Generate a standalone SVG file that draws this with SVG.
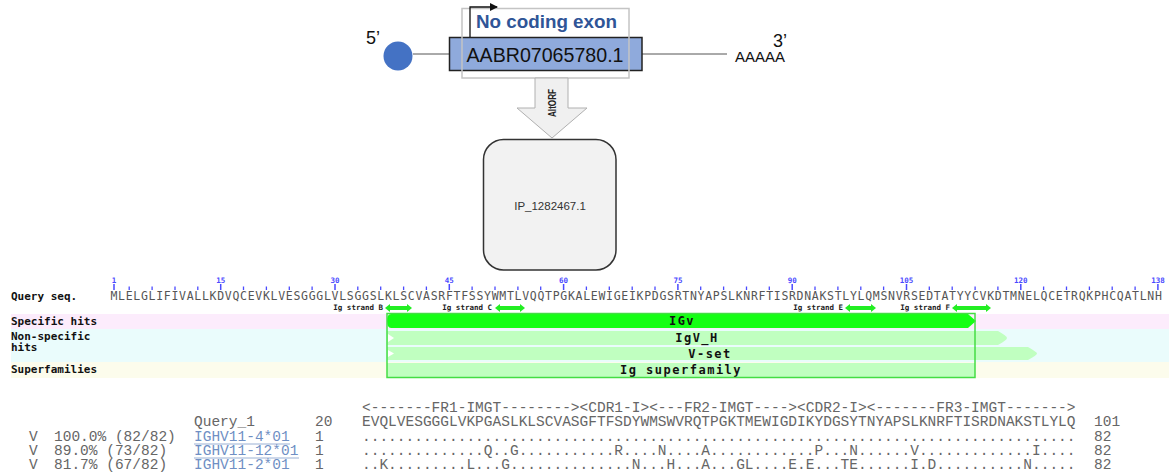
<svg xmlns="http://www.w3.org/2000/svg" width="1169" height="475" viewBox="0 0 1169 475">
<style>
.seq{font-family:"DejaVu Sans Mono",monospace;font-size:11.5px;fill:#555;letter-spacing:0.7px}
.lbl{font-family:"DejaVu Sans Mono",monospace;font-weight:bold;font-size:11px;fill:#111}
.rul{font-family:"DejaVu Sans Mono",monospace;font-weight:bold;font-size:7.5px;fill:#4a4aff;text-anchor:middle}
.str{font-family:"DejaVu Sans Mono",monospace;font-weight:bold;font-size:7.5px;fill:#222;text-anchor:end}
.bar{font-family:"DejaVu Sans Mono",monospace;font-weight:bold;font-size:12px;fill:#111;text-anchor:middle;letter-spacing:1.5px}
.aln{font-family:"Liberation Mono","Courier New",monospace;font-size:14.5px;fill:#666}
.lnk{fill:#6f8fc4}
.strand{fill:#22ee22}
</style>
<defs>
<marker id="ah" markerWidth="8" markerHeight="8" refX="7" refY="4" orient="auto" markerUnits="userSpaceOnUse">
<path d="M0,0 L8,4 L0,8 z" fill="#111"/>
</marker>
</defs>

<!-- Gene model -->
<g id="gene">
<line x1="413" y1="54" x2="450" y2="54" stroke="#555" stroke-width="1"/>
<line x1="642" y1="54" x2="727" y2="54" stroke="#555" stroke-width="1"/>
<circle cx="398" cy="56" r="14.5" fill="#4472c4"/>
<text x="366" y="44" font-family="Liberation Sans,Arial,sans-serif" font-size="18" fill="#111">5’</text>
<text x="773" y="47" font-family="Liberation Sans,Arial,sans-serif" font-size="18" fill="#111">3’</text>
<text x="735" y="62" font-family="Liberation Sans,Arial,sans-serif" font-size="14" fill="#111" textLength="50" lengthAdjust="spacingAndGlyphs">AAAAA</text>
<rect x="449.5" y="37.5" width="192.5" height="33" fill="#8faadc" stroke="#222" stroke-width="1.5"/>
<text x="545" y="62" text-anchor="middle" font-family="Liberation Sans,Arial,sans-serif" font-size="20" fill="#111" textLength="157" lengthAdjust="spacingAndGlyphs">AABR07065780.1</text>
<rect x="462" y="8.5" width="167" height="69.5" fill="none" stroke="#c4c4c4" stroke-width="1.5"/>
<text x="476" y="28" font-family="Liberation Sans,Arial,sans-serif" font-size="18" font-weight="bold" fill="#2f5597" textLength="141" lengthAdjust="spacingAndGlyphs">No coding exon</text>
<path d="M470,37 V7 H497" fill="none" stroke="#111" stroke-width="1.3" marker-end="url(#ah)"/>
</g>

<g id="altorf">
<path d="M535,78 H568 V108 H587 L552,138 L517,108 H535 Z" fill="#f0f0f0" stroke="#b0b0b0" stroke-width="1"/>
<text transform="translate(556,103) rotate(-90)" text-anchor="middle" font-family="Liberation Sans,Arial,sans-serif" font-size="10" font-weight="bold" fill="#222" textLength="28" lengthAdjust="spacingAndGlyphs">AltORF</text>
</g>

<g id="protein">
<rect x="483.5" y="139.5" width="132.5" height="130.5" rx="20" fill="#f2f2f2" stroke="#333" stroke-width="1.5"/>
<text x="550" y="210" text-anchor="middle" font-family="Liberation Sans,Arial,sans-serif" font-size="11.5" fill="#333">IP_1282467.1</text>
</g>

<!-- CD-search graphic -->
<g id="cdsearch">
<rect x="11" y="314" width="1158" height="15" fill="#fcecfc"/>
<rect x="11" y="329" width="1158" height="33" fill="#eafcfc"/>
<rect x="11" y="362" width="1158" height="16" fill="#fcfcec"/>
<text class="lbl" x="11" y="300">Query seq.</text>
<text class="lbl" x="11" y="325">Specific hits</text>
<text class="lbl" x="11" y="340">Non-specific</text>
<text class="lbl" x="11" y="351">hits</text>
<text class="lbl" x="11" y="373">Superfamilies</text>

<g id="ruler">
<path d="M114,284v6M220.7,284v6M335,284v6M449.3,284v6M563.6,284v6M677.9,284v6M792.2,284v6M906.5,284v6M1020.8,284v6M1157.9,284v6" stroke="#4a4aff" stroke-width="1.5"/>
<path d="M129.2,286.5v3.5M152.1,286.5v3.5M175,286.5v3.5M197.8,286.5v3.5M243.5,286.5v3.5M266.4,286.5v3.5M289.3,286.5v3.5M312.1,286.5v3.5M357.8,286.5v3.5M380.7,286.5v3.5M403.6,286.5v3.5M426.4,286.5v3.5M472.1,286.5v3.5M495,286.5v3.5M517.9,286.5v3.5M540.7,286.5v3.5M586.4,286.5v3.5M609.3,286.5v3.5M632.2,286.5v3.5M655,286.5v3.5M700.7,286.5v3.5M723.6,286.5v3.5M746.5,286.5v3.5M769.3,286.5v3.5M815,286.5v3.5M837.9,286.5v3.5M860.8,286.5v3.5M883.6,286.5v3.5M929.3,286.5v3.5M952.2,286.5v3.5M975.1,286.5v3.5M997.9,286.5v3.5M1043.6,286.5v3.5M1066.5,286.5v3.5M1089.4,286.5v3.5M1112.2,286.5v3.5M1135.1,286.5v3.5" stroke="#4a4aff" stroke-width="1.3"/>
<text class="rul" x="114" y="283">1</text>
<text class="rul" x="220.7" y="283">15</text>
<text class="rul" x="335" y="283">30</text>
<text class="rul" x="449.3" y="283">45</text>
<text class="rul" x="563.6" y="283">60</text>
<text class="rul" x="677.9" y="283">75</text>
<text class="rul" x="792.2" y="283">90</text>
<text class="rul" x="906.5" y="283">105</text>
<text class="rul" x="1020.8" y="283">120</text>
<text class="rul" x="1157.9" y="283">138</text>
</g>
<text class="seq" x="110.5" y="300">MLELGLIFIVALLKDVQCEVKLVESGGGLVLSGGSLKLSCVASRFTFSSYWMTLVQQTPGKALEWIGEIKPDGSRTNYAPSLKNRFTISRDNAKSTLYLQMSNVRSEDTATYYCVKDTMNELQCETRQKPHCQATLNH</text>

<g id="strands">
<text class="str" x="383" y="310">Ig strand B</text>
<path class="strand" d="M385,308 l5,-4 v2 h17 v-2 l5,4 l-5,4 v-2 h-17 v2 z"/>
<text class="str" x="492" y="310">Ig strand C</text>
<path class="strand" d="M495,308 l5,-4 v2 h20 v-2 l5,4 l-5,4 v-2 h-20 v2 z"/>
<text class="str" x="843" y="310">Ig strand E</text>
<path class="strand" d="M845,308 l5,-4 v2 h21 v-2 l5,4 l-5,4 v-2 h-21 v2 z"/>
<text class="str" x="950" y="310">Ig strand F</text>
<path class="strand" d="M952,308 l5,-4 v2 h29 v-2 l5,4 l-5,4 v-2 h-29 v2 z"/>
</g>

<g id="hit-IGv">
<path d="M391,314 H968 L976,321 L968,328 H391 Q387,328 387,321 Q387,314 391,314 Z" fill="#14ff14"/>
<text class="bar" x="682" y="325">IGv</text>
</g>
<g id="hit-IgV_H">
<path d="M387,331 H998 Q1007,336 1007,338 Q1007,340 998,345 H387 Z" fill="#c0ffc0"/>
<path d="M388,334 L394,338 L388,342 Z" fill="#ffffff"/>
<text class="bar" x="697" y="342">IgV_H</text>
</g>
<g id="hit-Vset">
<path d="M387,347 H1028 Q1037,352 1037,353.5 Q1037,355 1028,360 H387 Z" fill="#c0ffc0"/>
<path d="M388,350 L394,353.5 L388,357 Z" fill="#ffffff"/>
<text class="bar" x="710" y="358">V-set</text>
</g>
<g id="hit-superfamily">
<rect x="387" y="363" width="588" height="14" fill="#c0ffc0"/>
<text class="bar" x="681" y="374">Ig superfamily</text>
</g>
<rect x="387" y="313.5" width="588" height="64" fill="none" stroke="#44dd44" stroke-width="1.5"/>
</g>

<!-- IgBLAST alignment -->
<g id="igblast">
<text class="aln" x="362" y="412">&lt;-------FR1-IMGT--------&gt;&lt;CDR1-I&gt;&lt;---FR2-IMGT----&gt;&lt;CDR2-I&gt;&lt;-------FR3-IMGT-------&gt;</text>
<text class="aln" x="194" y="426">Query_1</text>
<text class="aln" x="315" y="426">20</text>
<text class="aln" x="362" y="426">EVQLVESGGGLVKPGASLKLSCVASGFTFSDYWMSWVRQTPGKTMEWIGDIKYDGSYTNYAPSLKNRFTISRDNAKSTLYLQ</text>
<text class="aln" x="1094" y="426">101</text>

<text class="aln" x="29" y="441">V</text>
<text class="aln" x="54" y="441">100.0% (82/82)</text>
<text class="aln lnk" x="194" y="441">IGHV11-4*01</text>
<line x1="194" y1="444" x2="290" y2="444" stroke="#9ab0d4" stroke-width="1"/>
<text class="aln" x="315" y="441">1</text>
<text class="aln" x="362" y="441">..................................................................................</text>
<text class="aln" x="1094" y="441">82</text>

<text class="aln" x="29" y="455">V</text>
<text class="aln" x="54" y="455">89.0% (73/82)</text>
<text class="aln lnk" x="194" y="455">IGHV11-12*01</text>
<line x1="194" y1="458" x2="299" y2="458" stroke="#9ab0d4" stroke-width="1"/>
<text class="aln" x="315" y="455">1</text>
<text class="aln" x="362" y="455">..............Q..G...........R....N....A............P...N......V.............I....</text>
<text class="aln" x="1094" y="455">82</text>

<text class="aln" x="29" y="469">V</text>
<text class="aln" x="54" y="469">81.7% (67/82)</text>
<text class="aln lnk" x="194" y="469">IGHV11-2*01</text>
<text class="aln" x="315" y="469">1</text>
<text class="aln" x="362" y="469">..K.........L...G..............N...H...A...GL....E.E...TE......I.D..........N.....</text>
<text class="aln" x="1094" y="469">82</text>
</g>
</svg>
